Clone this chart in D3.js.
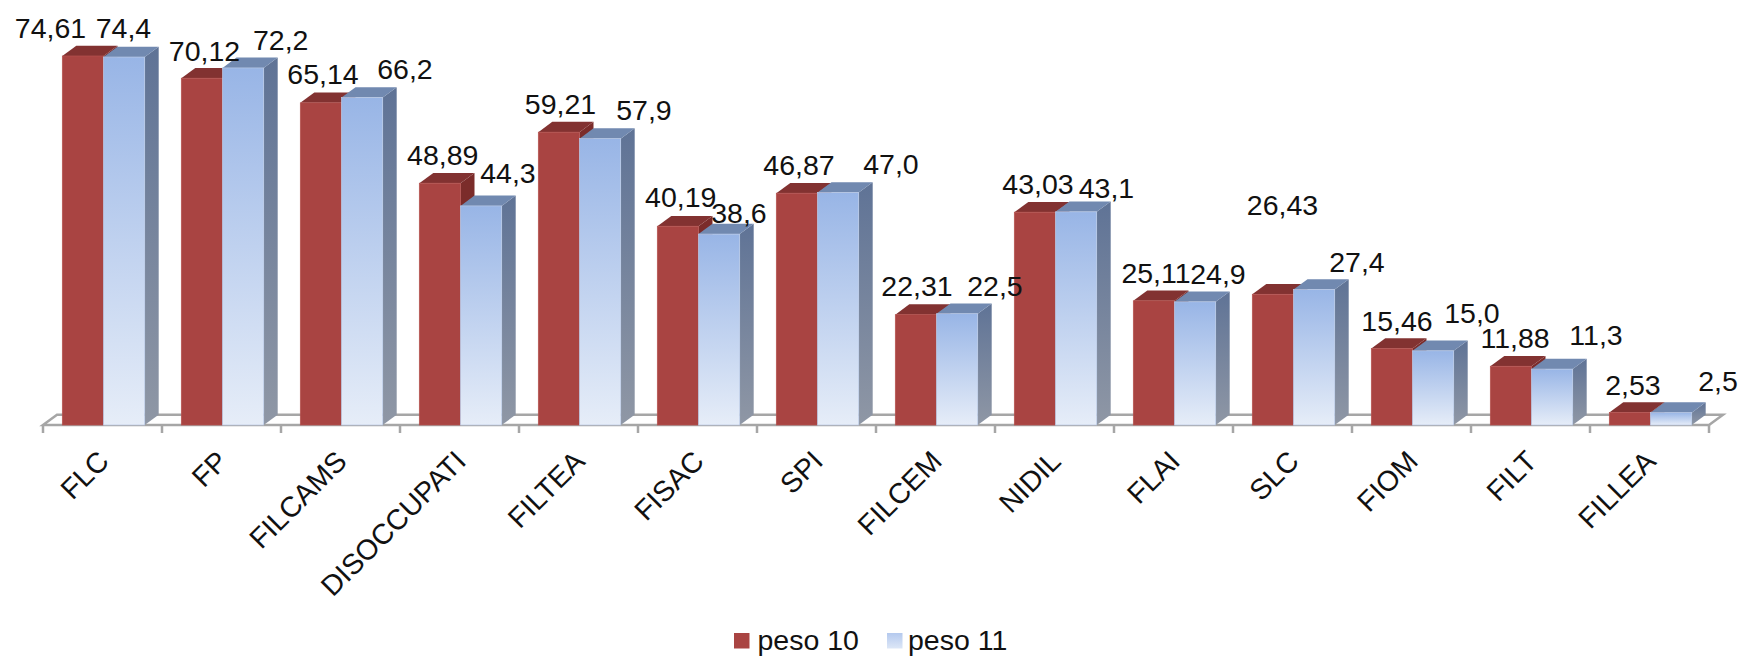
<!DOCTYPE html>
<html><head><meta charset="utf-8">
<script src="https://cdn.jsdelivr.net/npm/d3@7"></script>
<style>html,body{margin:0;padding:0;background:#fff}svg{display:block}text{font-family:"Liberation Sans",Arial,sans-serif;fill:#111}</style>
</head><body><div id="c"></div><script>
const categories=["FLC","FP","FILCAMS","DISOCCUPATI","FILTEA","FISAC","SPI","FILCEM","NIDIL","FLAI","SLC","FIOM","FILT","FILLEA"];
const peso10=[74.61,70.12,65.14,48.89,59.21,40.19,46.87,22.31,43.03,25.11,26.43,15.46,11.88,2.53];
const peso11=[74.4,72.2,66.2,44.3,57.9,38.6,47.0,22.5,43.1,24.9,27.4,15.0,11.3,2.5];
const labels10=["74,61","70,12","65,14","48,89","59,21","40,19","46,87","22,31","43,03","25,11","26,43","15,46","11,88","2,53"];
const labels11=["74,4","72,2","66,2","44,3","57,9","38,6","47,0","22,5","43,1","24,9","27,4","15,0","11,3","2,5"];
const series=["peso 10","peso 11"];
// label baseline-centre offsets from the bar's top-centre: [dx,dy]
const off10=[[-32.4,-18],[2.6,-17.6],[2.1,-18.9],[2.8,-18.2],[1.6,-18.2],[2.8,-19.6],[2.1,-18.2],[1.1,-19],[3.1,-17.9],[2.1,-17.8],[9.6,-79.3],[5.1,-17.5],[4.1,-18.3],[3.1,-17.5]];
const off11=[[-0.6,-19],[37.6,-18],[42.9,-18.6],[26.9,-23],[43.9,-18.7],[19.9,-11.3],[52.9,-18.6],[37.9,-18],[30.4,-14.2],[22.9,-17.9],[42.9,-17.5],[38.9,-28.1],[43.9,-24.1],[46.9,-21.9]];
const W=1741,H=656;
const svg=d3.select("#c").append("svg").attr("width",W).attr("height",H);
const y0=425,dx=14,dy=10.3,FS=28.5;
const x=d3.scaleBand().domain(categories).range([43,1709]).paddingInner(0).paddingOuter(0);
const barW=41.2,gap=19.3;
const y=d3.scaleLinear().domain([0,74.61]).range([y0,56]);
const defs=svg.append("defs");
function grad(id,a,b){const g=defs.append("linearGradient").attr("id",id).attr("x1",0).attr("x2",0).attr("y1",0).attr("y2",1);
 g.append("stop").attr("offset",0).attr("stop-color",a);g.append("stop").attr("offset",1).attr("stop-color",b);}
grad("gf","#98b5e6","#e6edf8");grad("gs","#5f7396","#8f97a5");grad("gl","#b4c9ee","#dde7f7");
const fl=[[43,y0],[57,y0-dy],[1723,y0-dy],[1709,y0]];
svg.append("path").attr("d",d3.line()(fl)+"Z").attr("fill","#fff").attr("stroke","#a6a6a6").attr("stroke-width",2.5);
const ticks=[...categories.map(c=>x(c)),1709];
svg.selectAll(".t").data(ticks).join("line").attr("x1",d=>d).attr("x2",d=>d).attr("y1",y0).attr("y2",y0+8).attr("stroke","#a6a6a6").attr("stroke-width",2.5);
function bar(v,xl,front,top,side,stroke){
 const g=svg.append("g"),t=y(v);
 g.append("path").attr("d",d3.line()([[xl+barW,y0],[xl+barW+dx,y0-dy],[xl+barW+dx,t-dy],[xl+barW,t]])+"Z").attr("fill",side);
 g.append("path").attr("d",d3.line()([[xl,t],[xl+dx,t-dy],[xl+barW+dx,t-dy],[xl+barW,t]])+"Z").attr("fill",top);
 g.append("rect").attr("x",xl).attr("y",t).attr("width",barW).attr("height",y0-t).attr("fill",front).attr("stroke",stroke).attr("stroke-width",.7);
}
categories.forEach((c,i)=>{
 const a=x(c)+gap;
 bar(peso10[i],a,"#a94442","#823231","#7b2c2a","#b5524f");
 bar(peso11[i],a+barW,"url(#gf)","#7189b0","url(#gs)","#b9c9e6");
});
categories.forEach((c,i)=>{
 const a=x(c)+gap;
 svg.append("text").attr("x",a+barW/2+off10[i][0]).attr("y",y(peso10[i])+off10[i][1]).attr("text-anchor","middle").attr("font-size",FS).text(labels10[i]);
 svg.append("text").attr("x",a+barW*1.5+off11[i][0]).attr("y",y(peso11[i])+off11[i][1]).attr("text-anchor","middle").attr("font-size",FS).text(labels11[i]);
 svg.append("text").attr("transform",`translate(${x(c)+x.bandwidth()/2+8},463) rotate(-45)`).attr("text-anchor","end").attr("font-size",FS).text(c);
});
const leg=svg.append("g");
[[734,"#a94442",757.5],[887,"url(#gl)",908]].forEach((d,i)=>{
 leg.append("rect").attr("x",d[0]).attr("y",633).attr("width",15.5).attr("height",15.5).attr("fill",d[1]);
 leg.append("text").attr("x",d[2]).attr("y",650).attr("font-size",FS).text(series[i]);
});
</script></body></html>
